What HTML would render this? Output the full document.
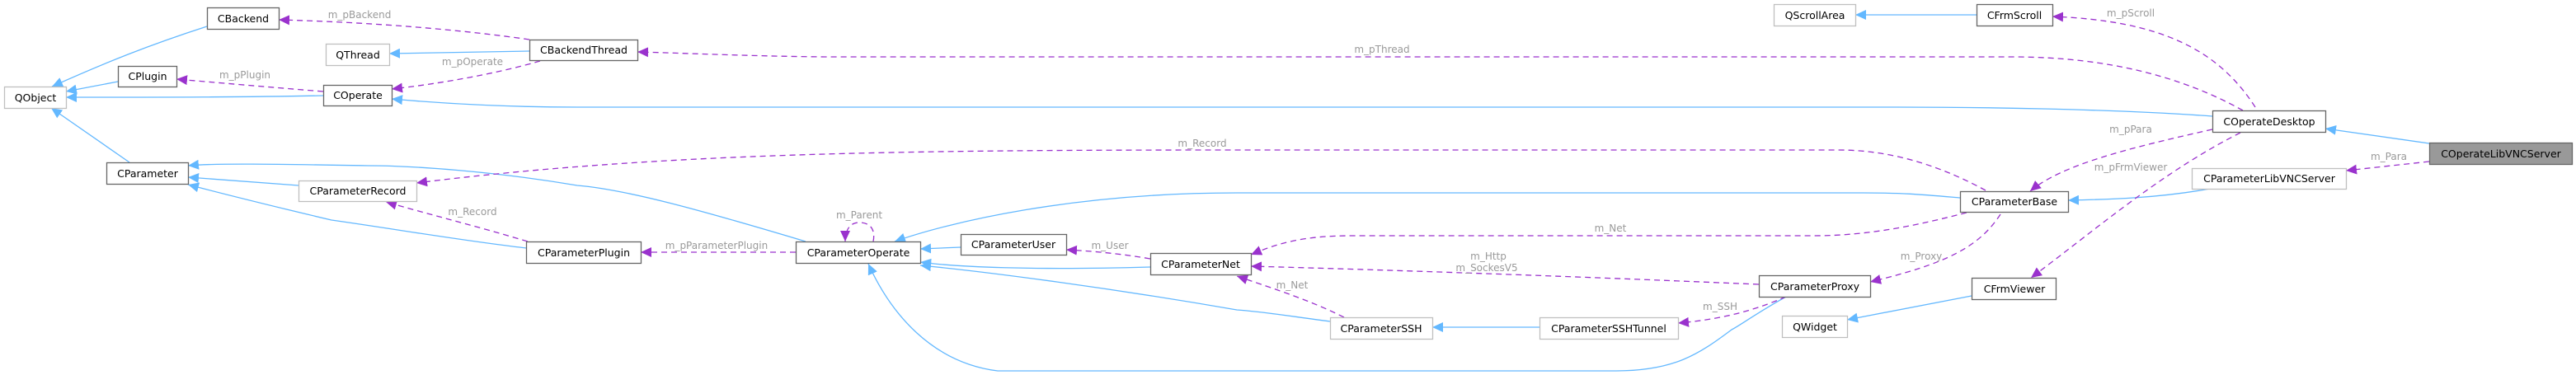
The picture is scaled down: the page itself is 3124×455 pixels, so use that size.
<!DOCTYPE html>
<html><head><meta charset="utf-8"><style>
html,body{margin:0;padding:0;background:#fff;}
svg{display:block;}
.n{fill:#fff;stroke:#666;stroke-width:1.3;}
.g{fill:#fff;stroke:#bfbfbf;stroke-width:1.3;}
.t{font-family:"DejaVu Sans","Liberation Sans",sans-serif;font-size:12.5px;fill:#000;text-anchor:middle;}
.l{font-family:"DejaVu Sans","Liberation Sans",sans-serif;font-size:12px;fill:#9a9a9a;text-anchor:middle;}
.b{fill:none;stroke:#63b8ff;stroke-width:1.3;}
.d{fill:none;stroke:#9a32cd;stroke-width:1.3;stroke-dasharray:7,5;}
</style></head><body>
<svg width="3124" height="455" viewBox="0 0 3124 455" xmlns="http://www.w3.org/2000/svg">
<defs>
<marker id="ab" markerUnits="userSpaceOnUse" markerWidth="14" markerHeight="12" refX="13" refY="6" orient="auto"><path d="M0,0 L13,6 L0,12 z" fill="#63b8ff"/></marker>
<marker id="ap" markerUnits="userSpaceOnUse" markerWidth="14" markerHeight="12" refX="13" refY="6" orient="auto"><path d="M0,0 L13,6 L0,12 z" fill="#9a32cd"/></marker>
</defs>
<!-- blue edges -->
<path class="b" marker-end="url(#ab)" d="M251,32 C180,55 130,75 63,105"/>
<path class="b" marker-end="url(#ab)" d="M143,99 L80,111"/>
<path class="b" marker-end="url(#ab)" d="M392,116 C300,118 200,118 80,118"/>
<path class="b" marker-end="url(#ab)" d="M157,197 L62,131"/>
<path class="b" marker-end="url(#ab)" d="M642,62 L472,65"/>
<path class="b" marker-end="url(#ab)" d="M2683,141 C2560,132 2400,130 2300,130 L700,130 C600,130 520,124 475,120"/>
<path class="b" marker-end="url(#ab)" d="M2397,18 L2250,18"/>
<path class="b" marker-end="url(#ab)" d="M2946,174 L2820,156"/>
<path class="b" marker-end="url(#ab)" d="M2680,229 C2620,240 2560,242 2508,243"/>
<path class="b" marker-end="url(#ab)" d="M2391,359 L2240,388"/>
<path class="b" marker-end="url(#ab)" d="M2377,240 C2330,236 2310,234 2260,234 L1500,234 C1300,234 1150,270 1085,293"/>
<path class="b" marker-end="url(#ab)" d="M2166,360 C2130,380 2110,395 2100,400 C2060,430 2030,450 1960,450 L1210,450 C1130,440 1080,380 1053,320"/>
<path class="b" marker-end="url(#ab)" d="M1867,397 L1737,397"/>
<path class="b" marker-end="url(#ab)" d="M1613,390 C1560,383 1530,378 1500,376 C1350,350 1200,330 1116,322"/>
<path class="b" marker-end="url(#ab)" d="M1395,324 C1250,328 1160,324 1116,318"/>
<path class="b" marker-end="url(#ab)" d="M1165,300 L1116,302"/>
<path class="b" marker-end="url(#ab)" d="M977,293 C850,255 760,230 700,225 C600,208 500,201 446,201 C330,199 260,198 228,201"/>
<path class="b" marker-end="url(#ab)" d="M362,225 L228,215"/>
<path class="b" marker-end="url(#ab)" d="M638,301 C560,292 480,278 402,267 C330,250 270,235 228,224"/>
<!-- purple edges -->
<path class="d" marker-end="url(#ap)" d="M642,48 C560,36 450,27 338,24"/>
<path class="d" marker-end="url(#ap)" d="M655,74 C600,90 530,102 475,108"/>
<path class="d" marker-end="url(#ap)" d="M392,111 C330,106 260,100 214,96"/>
<path class="d" marker-end="url(#ap)" d="M2720,134 C2650,95 2560,69 2440,69 L1000,69 C900,68 820,64 773,63"/>
<path class="d" marker-end="url(#ap)" d="M2735,130 C2690,60 2620,25 2489,20"/>
<path class="d" marker-end="url(#ap)" d="M2946,196 L2845,207"/>
<path class="d" marker-end="url(#ap)" d="M2683,157 C2580,180 2500,200 2462,232"/>
<path class="d" marker-end="url(#ap)" d="M2717,161 C2620,210 2540,280 2463,337"/>
<path class="d" marker-end="url(#ap)" d="M2408,231 C2360,205 2300,182 2230,182 L1500,182 C1100,182 800,185 505,222"/>
<path class="d" marker-end="url(#ap)" d="M2385,258 C2330,272 2270,286 2200,286 L1640,286 C1580,286 1550,295 1517,309"/>
<path class="d" marker-end="url(#ap)" d="M2426,260 C2400,300 2360,320 2268,342"/>
<path class="d" marker-end="url(#ap)" d="M2133,345 C1900,335 1700,328 1517,323"/>
<path class="d" marker-end="url(#ap)" d="M2166,360 C2120,380 2080,388 2035,392"/>
<path class="d" marker-end="url(#ap)" d="M1630,385 C1590,365 1550,352 1500,335"/>
<path class="d" marker-end="url(#ap)" d="M1395,314 C1360,308 1330,305 1293,303"/>
<path class="d" marker-end="url(#ap)" d="M1059,293 C1062,278 1055,270 1042,270 C1030,270 1025,280 1025,293"/>
<path class="d" marker-end="url(#ap)" d="M965,306 L777,306"/>
<path class="d" marker-end="url(#ap)" d="M640,293 C580,275 520,260 468,245"/>
<!-- labels -->
<text class="l" x="436" y="22">m_pBackend</text>
<text class="l" x="573" y="79">m_pOperate</text>
<text class="l" x="297" y="95">m_pPlugin</text>
<text class="l" x="1676" y="64">m_pThread</text>
<text class="l" x="2584" y="20">m_pScroll</text>
<text class="l" x="2897" y="194">m_Para</text>
<text class="l" x="2584" y="161">m_pPara</text>
<text class="l" x="2584" y="207">m_pFrmViewer</text>
<text class="l" x="1458" y="178">m_Record</text>
<text class="l" x="1953" y="281">m_Net</text>
<text class="l" x="2330" y="315">m_Proxy</text>
<text class="l" x="1805" y="315">m_Http</text>
<text class="l" x="1803" y="329">m_SockesV5</text>
<text class="l" x="2086" y="376">m_SSH</text>
<text class="l" x="1567" y="350">m_Net</text>
<text class="l" x="1346" y="302">m_User</text>
<text class="l" x="1042" y="265">m_Parent</text>
<text class="l" x="869" y="302">m_pParameterPlugin</text>
<text class="l" x="573" y="261">m_Record</text>
<!-- nodes -->
<rect class="n" x="251.5" y="9.5" width="87" height="26"/><text class="t" x="295" y="27">CBackend</text>
<rect class="g" x="395.5" y="53.5" width="77" height="26"/><text class="t" x="434" y="71">QThread</text>
<rect class="n" x="143.5" y="80.5" width="71" height="25"/><text class="t" x="179" y="97">CPlugin</text>
<rect class="g" x="5.5" y="105.5" width="75" height="26"/><text class="t" x="43" y="123">QObject</text>
<rect class="n" x="392.5" y="103.5" width="83" height="25"/><text class="t" x="434" y="120">COperate</text>
<rect class="n" x="129.5" y="197.5" width="99" height="26"/><text class="t" x="179" y="215">CParameter</text>
<rect class="g" x="362.5" y="219.5" width="143" height="25"/><text class="t" x="434" y="236">CParameterRecord</text>
<rect class="n" x="642.5" y="48.5" width="131" height="25"/><text class="t" x="708" y="65">CBackendThread</text>
<rect class="n" x="638.5" y="293.5" width="139" height="26"/><text class="t" x="708" y="311">CParameterPlugin</text>
<rect class="n" x="965.5" y="293.5" width="151" height="26"/><text class="t" x="1041" y="311">CParameterOperate</text>
<rect class="n" x="1165.5" y="284.5" width="128" height="25"/><text class="t" x="1229" y="301">CParameterUser</text>
<rect class="n" x="1395.5" y="307.5" width="122" height="26"/><text class="t" x="1456" y="325">CParameterNet</text>
<rect class="g" x="2151.5" y="5.5" width="99" height="26"/><text class="t" x="2201" y="23">QScrollArea</text>
<rect class="n" x="2133.5" y="334.5" width="135" height="26"/><text class="t" x="2201" y="352">CParameterProxy</text>
<rect class="g" x="1613.5" y="385.5" width="124" height="26"/><text class="t" x="1675" y="403">CParameterSSH</text>
<rect class="g" x="1867.5" y="385.5" width="168" height="26"/><text class="t" x="1951" y="403">CParameterSSHTunnel</text>
<rect class="g" x="2161.5" y="383.5" width="79" height="26"/><text class="t" x="2201" y="401">QWidget</text>
<rect class="n" x="2397.5" y="5.5" width="92" height="26"/><text class="t" x="2443" y="23">CFrmScroll</text>
<rect class="n" x="2683.5" y="134.5" width="137" height="26"/><text class="t" x="2752" y="152">COperateDesktop</text>
<rect class="g" x="2658.5" y="204.5" width="187" height="25"/><text class="t" x="2752" y="221">CParameterLibVNCServer</text>
<rect class="n" x="2377.5" y="232.5" width="131" height="25"/><text class="t" x="2443" y="249">CParameterBase</text>
<rect class="n" x="2391.5" y="337.5" width="102" height="26"/><text class="t" x="2443" y="355">CFrmViewer</text>
<rect x="2946.5" y="173.5" width="173" height="26" fill="#999" stroke="#666" stroke-width="1.3"/><text class="t" x="3033" y="191">COperateLibVNCServer</text>
</svg>
</body></html>
